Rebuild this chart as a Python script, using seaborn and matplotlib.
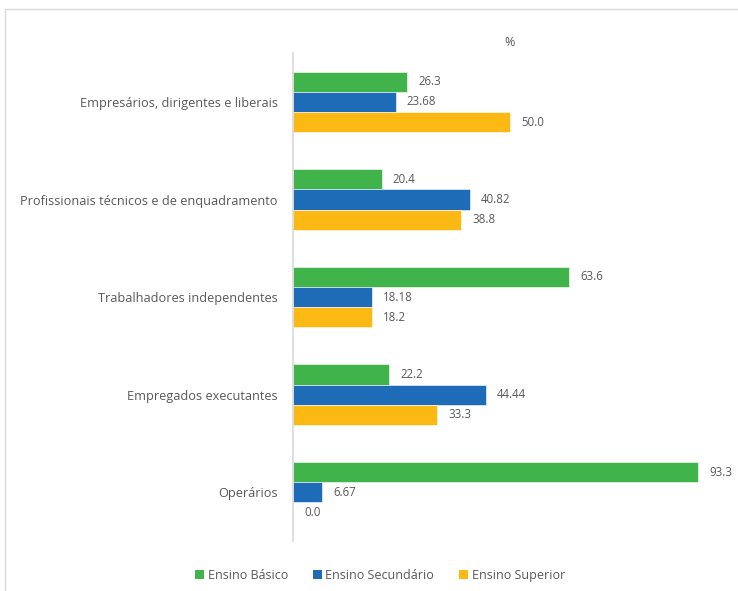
import matplotlib
matplotlib.use("Agg")
import matplotlib.pyplot as plt
import seaborn as sns
import pandas as pd
from matplotlib.patches import Rectangle, Patch

categories = ["Empresários, dirigentes e liberais",
              "Profissionais técnicos e de enquadramento",
              "Trabalhadores independentes",
              "Empregados executantes",
              "Operários"]
series = ["Ensino Básico", "Ensino Secundário", "Ensino Superior"]
basico = [26.3, 20.4, 63.6, 22.2, 93.3]
secundario = [23.68, 40.82, 18.18, 44.44, 6.67]
superior = [50.0, 38.8, 18.2, 33.3, 0.0]
basico_lbl = ["26.3", "20.4", "63.6", "22.2", "93.3"]
secundario_lbl = ["23.68", "40.82", "18.18", "44.44", "6.67"]
superior_lbl = ["50.0", "38.8", "18.2", "33.3", "0.0"]
colors = ["#41B34B", "#1E6CB7", "#FDB913"]

rows = []
for s, vals in zip(series, [basico, secundario, superior]):
    for c, v in zip(categories, vals):
        rows.append({"cat": c, "serie": s, "val": v})
df = pd.DataFrame(rows)

sns.set_theme(style="white")
plt.rcParams['font.family'] = ['Open Sans', 'DejaVu Sans']
txt = "#595959"

fig = plt.figure(figsize=(7.38, 5.91), dpi=100)
ax = fig.add_axes([0.397, 0.0846, 0.588, 0.8254])
sns.barplot(data=df, y="cat", x="val", hue="serie", order=categories,
            hue_order=series, palette=colors, orient="h", width=0.62,
            ax=ax, saturation=1, legend=False, edgecolor="white", linewidth=0.4)

for cont, lbls in zip(ax.containers, [basico_lbl, secundario_lbl, superior_lbl]):
    ax.bar_label(cont, labels=lbls, padding=8, fontsize=8.3, color=txt)

ax.set_xlim(0, 100)
ax.set_ylim(4.5, -0.5)
ax.set_xlabel("")
ax.set_ylabel("")
ax.set_xticks([])
ax.tick_params(axis="y", length=0, labelsize=9.2, labelcolor=txt, pad=11)
for sp in ["top", "right", "bottom"]:
    ax.spines[sp].set_visible(False)
ax.spines["left"].set_color("#d9d9d9")
ax.spines["left"].set_linewidth(1.2)
ax.set_title("%", fontsize=9, color=txt, pad=5)

handles = [Patch(facecolor=c, edgecolor="none") for c in colors]
fig.legend(handles, series, loc="center", bbox_to_anchor=(0.515, 0.027),
           ncol=3, frameon=False, fontsize=9, handlelength=0.7,
           handleheight=0.7, handletextpad=0.3, columnspacing=2.0,
           labelcolor=txt)

fig.patches.append(Rectangle((5/738, -0.2), 1.2, 1.2 - 9/591, transform=fig.transFigure,
                             fill=False, edgecolor="#d9d9d9", linewidth=1))

fig.savefig("out.png", dpi=100)
